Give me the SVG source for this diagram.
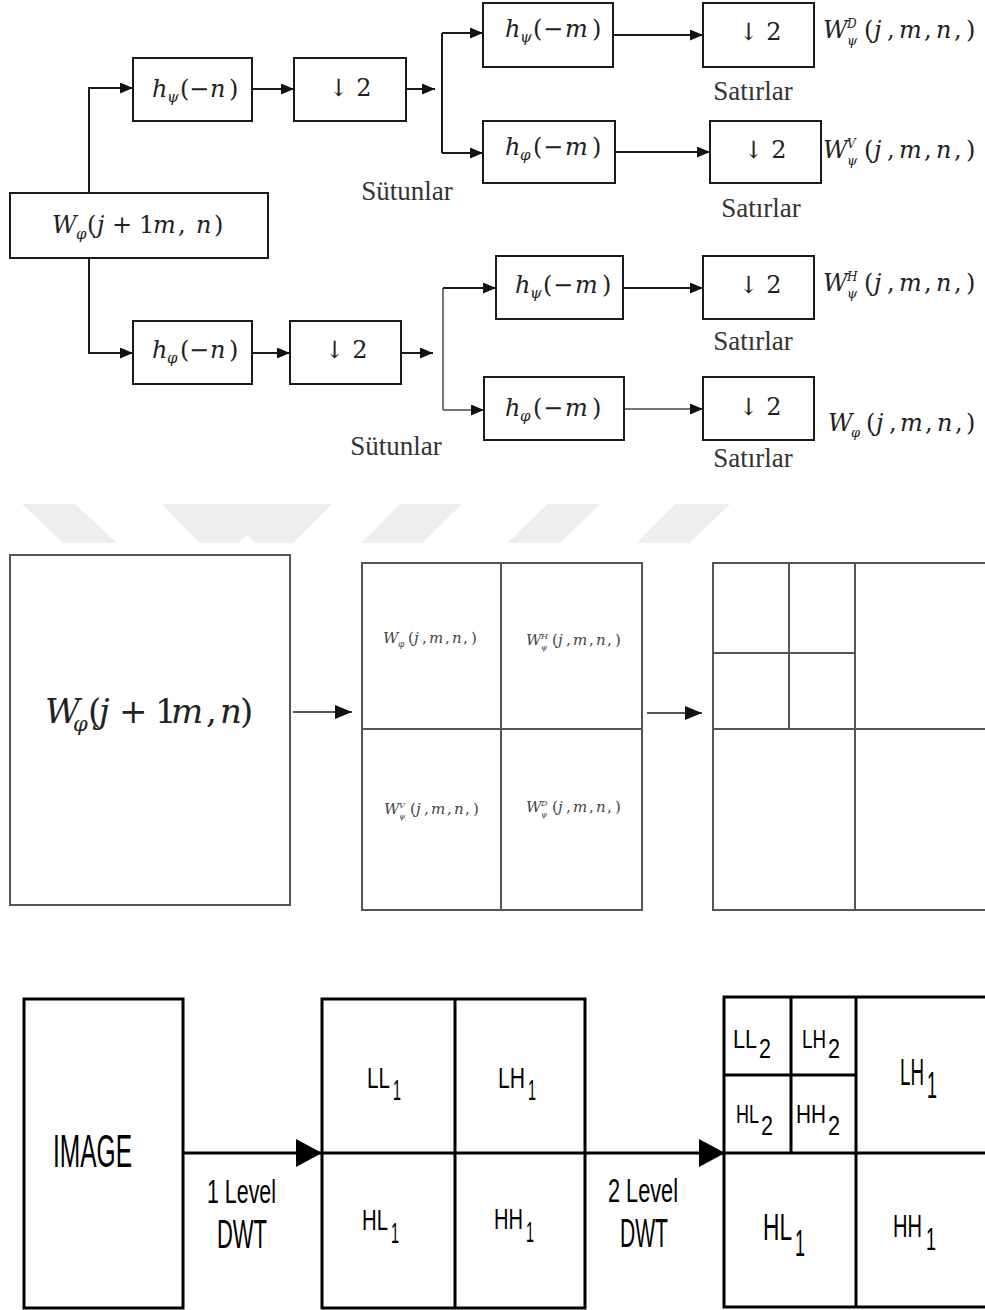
<svg xmlns="http://www.w3.org/2000/svg" width="985" height="1310" viewBox="0 0 985 1310">
<defs>
<marker id="a1" markerUnits="userSpaceOnUse" markerWidth="13" markerHeight="11" refX="13" refY="5.5" orient="auto"><path d="M0,0 L13,5.5 L0,11 z" fill="#111"/></marker>
<marker id="a2" markerUnits="userSpaceOnUse" markerWidth="17" markerHeight="14" refX="17" refY="7" orient="auto"><path d="M0,0 L17,7 L0,14 z" fill="#111"/></marker>
<marker id="a3" markerUnits="userSpaceOnUse" markerWidth="26" markerHeight="28" refX="26" refY="14" orient="auto"><path d="M0,0 L26,14 L0,28 z" fill="#000"/></marker>
<style>
.bx{fill:#fff;stroke:#1a1a1a;stroke-width:2}
.c{fill:none;stroke:#1a1a1a;stroke-width:2}
.cg{fill:none;stroke:#777;stroke-width:2}
.m{font-family:"DejaVu Serif","Liberation Serif",serif;fill:#222}
.ms{font-family:"DejaVu Serif","Liberation Serif",serif;fill:#444}
.i{font-style:italic}
.lb{font-family:"Liberation Serif","DejaVu Serif",serif;font-size:27px;fill:#333}
.g{fill:none;stroke:#555;stroke-width:2}
.wm{fill:#eeeeee}
.bb{fill:#fff;stroke:#000;stroke-width:3}
.bl{fill:none;stroke:#000;stroke-width:3}
.s{font-family:"Liberation Sans","Arial",sans-serif;fill:#000}
</style>
</defs>
<rect width="985" height="1310" fill="#fff"/>

<g id="watermark">
<polygon class="wm" points="22,504 75,504 117,543 63,543"/>
<polygon class="wm" points="162,504 332,504 293,543 256,543 247,535 238,543 200,543"/>
<polygon class="wm" points="400,504 462,504 422,543 362,543"/>
<polygon class="wm" points="548,504 600,504 560,543 507,543"/>
<polygon class="wm" points="675,504 730,504 690,543 637,543"/>
</g>

<!-- ===== TOP: filter bank ===== -->
<g id="connectors-top">
<path class="c" d="M89,193 V88 H133" marker-end="url(#a1)"/>
<path class="c" d="M252,89 H294" marker-end="url(#a1)"/>
<path class="c" d="M406,89 H435" marker-end="url(#a1)"/>
<path class="c" d="M442,33 V153"/>
<path class="c" d="M442,33 H483" marker-end="url(#a1)"/>
<path class="c" d="M442,153 H483" marker-end="url(#a1)"/>
<path class="c" d="M613,35 H703" marker-end="url(#a1)"/>
<path class="c" d="M615,152 H710" marker-end="url(#a1)"/>
<path class="c" d="M89,258 V353 H133" marker-end="url(#a1)"/>
<path class="c" d="M252,353 H290" marker-end="url(#a1)"/>
<path class="c" d="M401,353 H433" marker-end="url(#a1)"/>
<path class="cg" d="M443,288 V410"/>
<path class="c" d="M443,288 H496" marker-end="url(#a1)"/>
<path class="cg" d="M443,410 H484" marker-end="url(#a1)"/>
<path class="c" d="M623,288 H703" marker-end="url(#a1)"/>
<path class="cg" d="M624,409 H703" marker-end="url(#a1)"/>
</g>

<g id="n-w-input">
<rect class="bx" x="10" y="193" width="258" height="65"/>
<text class="m" y="233" font-size="24"><tspan x="52" class="i">W</tspan><tspan x="76" y="239" font-size="15" class="i">φ</tspan><tspan x="87" y="233">(</tspan><tspan x="97" class="i">j</tspan><tspan x="112">+</tspan><tspan x="139">1</tspan><tspan x="153" class="i">m</tspan><tspan x="178">,</tspan><tspan x="196" class="i">n</tspan><tspan x="214">)</tspan></text>
</g>
<g id="n-hpsi-n">
<rect class="bx" x="133" y="58" width="119" height="63"/>
<text class="m" y="97" font-size="24"><tspan x="152" class="i">h</tspan><tspan x="167" y="102" font-size="15" class="i">ψ</tspan><tspan x="180" y="97">(</tspan><tspan x="189">−</tspan><tspan x="210" class="i">n</tspan><tspan x="229">)</tspan></text>
</g>
<g id="n-ds1">
<rect class="bx" x="294" y="58" width="112" height="63"/>
<text class="m" x="350" y="96" font-size="24" text-anchor="middle">↓ 2</text>
</g>
<g id="n-hpsi-m1">
<rect class="bx" x="483" y="3" width="130" height="64"/>
<text class="m" y="37" font-size="24"><tspan x="505" class="i">h</tspan><tspan x="520" y="42" font-size="15" class="i">ψ</tspan><tspan x="533" y="37">(</tspan><tspan x="543">−</tspan><tspan x="565" class="i">m</tspan><tspan x="592">)</tspan></text>
</g>
<g id="n-ds2">
<rect class="bx" x="703" y="3" width="111" height="64"/>
<text class="m" x="760" y="40" font-size="24" text-anchor="middle">↓ 2</text>
</g>
<text class="lb" x="753" y="100" text-anchor="middle">Satırlar</text>
<text class="m" y="38" font-size="24"><tspan x="823" class="i">W</tspan><tspan x="847" y="28" font-size="12" class="i">D</tspan><tspan x="847" y="45" font-size="13" class="i">ψ</tspan><tspan x="864" y="38">(</tspan><tspan x="874" class="i">j</tspan><tspan x="887">,</tspan><tspan x="899" class="i">m</tspan><tspan x="924">,</tspan><tspan x="936" class="i">n</tspan><tspan x="954">,</tspan><tspan x="966">)</tspan></text>

<g id="n-hphi-m1">
<rect class="bx" x="483" y="121" width="132" height="62"/>
<text class="m" y="155" font-size="24"><tspan x="505" class="i">h</tspan><tspan x="520" y="160" font-size="15" class="i">φ</tspan><tspan x="533" y="155">(</tspan><tspan x="543">−</tspan><tspan x="565" class="i">m</tspan><tspan x="592">)</tspan></text>
</g>
<g id="n-ds3">
<rect class="bx" x="710" y="121" width="111" height="62"/>
<text class="m" x="765" y="158" font-size="24" text-anchor="middle">↓ 2</text>
</g>
<text class="lb" x="761" y="217" text-anchor="middle">Satırlar</text>
<text class="m" y="158" font-size="24"><tspan x="823" class="i">W</tspan><tspan x="847" y="148" font-size="12" class="i">V</tspan><tspan x="847" y="165" font-size="13" class="i">ψ</tspan><tspan x="864" y="158">(</tspan><tspan x="874" class="i">j</tspan><tspan x="887">,</tspan><tspan x="899" class="i">m</tspan><tspan x="924">,</tspan><tspan x="936" class="i">n</tspan><tspan x="954">,</tspan><tspan x="966">)</tspan></text>
<text class="lb" x="407" y="200" text-anchor="middle">Sütunlar</text>

<g id="n-hphi-n">
<rect class="bx" x="133" y="321" width="119" height="63"/>
<text class="m" y="358" font-size="24"><tspan x="152" class="i">h</tspan><tspan x="167" y="363" font-size="15" class="i">φ</tspan><tspan x="180" y="358">(</tspan><tspan x="189">−</tspan><tspan x="210" class="i">n</tspan><tspan x="229">)</tspan></text>
</g>
<g id="n-ds4">
<rect class="bx" x="290" y="321" width="111" height="63"/>
<text class="m" x="346" y="358" font-size="24" text-anchor="middle">↓ 2</text>
</g>
<g id="n-hpsi-m2">
<rect class="bx" x="496" y="256" width="127" height="63"/>
<text class="m" y="293" font-size="24"><tspan x="515" class="i">h</tspan><tspan x="530" y="298" font-size="15" class="i">ψ</tspan><tspan x="543" y="293">(</tspan><tspan x="553">−</tspan><tspan x="575" class="i">m</tspan><tspan x="602">)</tspan></text>
</g>
<g id="n-ds5">
<rect class="bx" x="703" y="256" width="111" height="63"/>
<text class="m" x="760" y="293" font-size="24" text-anchor="middle">↓ 2</text>
</g>
<text class="lb" x="753" y="350" text-anchor="middle">Satırlar</text>
<text class="m" y="291" font-size="24"><tspan x="823" class="i">W</tspan><tspan x="847" y="281" font-size="12" class="i">H</tspan><tspan x="847" y="298" font-size="13" class="i">ψ</tspan><tspan x="864" y="291">(</tspan><tspan x="874" class="i">j</tspan><tspan x="887">,</tspan><tspan x="899" class="i">m</tspan><tspan x="924">,</tspan><tspan x="936" class="i">n</tspan><tspan x="954">,</tspan><tspan x="966">)</tspan></text>

<g id="n-hphi-m2">
<rect class="bx" x="484" y="377" width="140" height="63"/>
<text class="m" y="416" font-size="24"><tspan x="505" class="i">h</tspan><tspan x="520" y="421" font-size="15" class="i">φ</tspan><tspan x="533" y="416">(</tspan><tspan x="543">−</tspan><tspan x="565" class="i">m</tspan><tspan x="592">)</tspan></text>
</g>
<g id="n-ds6">
<rect class="bx" x="703" y="377" width="111" height="63"/>
<text class="m" x="760" y="415" font-size="24" text-anchor="middle">↓ 2</text>
</g>
<text class="lb" x="753" y="467" text-anchor="middle">Satırlar</text>
<text class="m" y="431" font-size="24"><tspan x="828" class="i">W</tspan><tspan x="851" y="437" font-size="13" class="i">φ</tspan><tspan x="866" y="431">(</tspan><tspan x="876" class="i">j</tspan><tspan x="889">,</tspan><tspan x="900" class="i">m</tspan><tspan x="925">,</tspan><tspan x="937" class="i">n</tspan><tspan x="955">,</tspan><tspan x="966">)</tspan></text>
<text class="lb" x="396" y="455" text-anchor="middle">Sütunlar</text>

<!-- ===== MIDDLE ===== -->
<g id="connectors-mid">
<path class="g" d="M293,712 H352" marker-end="url(#a2)"/>
<path class="g" d="M647,713 H702" marker-end="url(#a2)"/>
</g>
<g id="n-mid-input">
<rect class="g" x="10" y="555" width="280" height="350" fill="#fff"/>
<text class="m" y="723" font-size="34"><tspan x="45" class="i">W</tspan><tspan x="73" y="731" font-size="21" class="i">φ</tspan><tspan x="88" y="723">(</tspan><tspan x="99" class="i">j</tspan><tspan x="119">+</tspan><tspan x="155">1</tspan><tspan x="171" class="i">m</tspan><tspan x="206">,</tspan><tspan x="220" class="i">n</tspan><tspan x="240">)</tspan></text>
</g>
<g id="n-mid-level1">
<rect class="g" x="362" y="563" width="280" height="347" fill="#fff"/>
<path class="g" d="M501,563 V910 M362,729 H642"/>
<text class="ms" y="643" font-size="15"><tspan x="383" class="i">W</tspan><tspan x="398" y="647" font-size="9" class="i">φ</tspan><tspan x="408" y="643">(</tspan><tspan x="414" class="i">j</tspan><tspan x="422">,</tspan><tspan x="429" class="i">m</tspan><tspan x="445">,</tspan><tspan x="452" class="i">n</tspan><tspan x="463">,</tspan><tspan x="471">)</tspan></text>
<text class="ms" y="645" font-size="15"><tspan x="526" class="i">W</tspan><tspan x="541" y="639" font-size="8" class="i">H</tspan><tspan x="541" y="650" font-size="8" class="i">ψ</tspan><tspan x="552" y="645">(</tspan><tspan x="558" class="i">j</tspan><tspan x="566">,</tspan><tspan x="573" class="i">m</tspan><tspan x="589">,</tspan><tspan x="596" class="i">n</tspan><tspan x="607">,</tspan><tspan x="615">)</tspan></text>
<text class="ms" y="814" font-size="15"><tspan x="384" class="i">W</tspan><tspan x="399" y="808" font-size="8" class="i">V</tspan><tspan x="399" y="819" font-size="8" class="i">ψ</tspan><tspan x="410" y="814">(</tspan><tspan x="416" class="i">j</tspan><tspan x="424">,</tspan><tspan x="431" class="i">m</tspan><tspan x="447">,</tspan><tspan x="454" class="i">n</tspan><tspan x="465">,</tspan><tspan x="473">)</tspan></text>
<text class="ms" y="812" font-size="15"><tspan x="526" class="i">W</tspan><tspan x="541" y="806" font-size="8" class="i">D</tspan><tspan x="541" y="817" font-size="8" class="i">ψ</tspan><tspan x="552" y="812">(</tspan><tspan x="558" class="i">j</tspan><tspan x="566">,</tspan><tspan x="573" class="i">m</tspan><tspan x="589">,</tspan><tspan x="596" class="i">n</tspan><tspan x="607">,</tspan><tspan x="615">)</tspan></text>
</g>
<g id="n-mid-level2">
<path class="g" d="M985,563 H713 V910 H985 M855,563 V910 M713,729 H985 M789,563 V729 M713,653 H855"/>
</g>

<!-- ===== BOTTOM ===== -->
<g id="connectors-bottom">
<path class="bl" d="M183,1153 H322" marker-end="url(#a3)"/>
<path class="bl" d="M585,1153 H725" marker-end="url(#a3)"/>
</g>
<g id="n-image">
<rect class="bb" x="24" y="999" width="159" height="309"/>
<text class="s" x="53" y="1167" font-size="46" textLength="79" lengthAdjust="spacingAndGlyphs">IMAGE</text>
</g>
<text class="s" x="207" y="1203" font-size="34" textLength="69" lengthAdjust="spacingAndGlyphs">1 Level</text>
<text class="s" x="217" y="1248" font-size="40" textLength="50" lengthAdjust="spacingAndGlyphs">DWT</text>
<g id="n-level1">
<rect class="bb" x="322" y="999" width="263" height="309"/>
<path class="bl" d="M455,999 V1308 M322,1153 H585"/>
<text class="s" x="367" y="1088" font-size="30" textLength="23" lengthAdjust="spacingAndGlyphs">LL</text>
<text class="s" x="393" y="1100" font-size="30" textLength="8" lengthAdjust="spacingAndGlyphs">1</text>
<text class="s" x="498" y="1088" font-size="30" textLength="27" lengthAdjust="spacingAndGlyphs">LH</text>
<text class="s" x="528" y="1100" font-size="30" textLength="8" lengthAdjust="spacingAndGlyphs">1</text>
<text class="s" x="362" y="1230" font-size="30" textLength="26" lengthAdjust="spacingAndGlyphs">HL</text>
<text class="s" x="391" y="1243" font-size="30" textLength="8" lengthAdjust="spacingAndGlyphs">1</text>
<text class="s" x="494" y="1229" font-size="30" textLength="29" lengthAdjust="spacingAndGlyphs">HH</text>
<text class="s" x="526" y="1242" font-size="30" textLength="8" lengthAdjust="spacingAndGlyphs">1</text>
</g>
<text class="s" x="608" y="1202" font-size="34" textLength="70" lengthAdjust="spacingAndGlyphs">2 Level</text>
<text class="s" x="620" y="1247" font-size="40" textLength="48" lengthAdjust="spacingAndGlyphs">DWT</text>
<g id="n-level2">
<path class="bl" d="M985,997 H724 V1307 H985 M856,997 V1307 M724,1153 H985 M791,997 V1153 M724,1075 H856"/>
<text class="s" x="733" y="1048" font-size="26" textLength="24" lengthAdjust="spacingAndGlyphs">LL</text>
<text class="s" x="759" y="1058" font-size="28" textLength="12" lengthAdjust="spacingAndGlyphs">2</text>
<text class="s" x="802" y="1048" font-size="26" textLength="24" lengthAdjust="spacingAndGlyphs">LH</text>
<text class="s" x="828" y="1058" font-size="28" textLength="12" lengthAdjust="spacingAndGlyphs">2</text>
<text class="s" x="736" y="1123" font-size="26" textLength="23" lengthAdjust="spacingAndGlyphs">HL</text>
<text class="s" x="761" y="1135" font-size="28" textLength="12" lengthAdjust="spacingAndGlyphs">2</text>
<text class="s" x="796" y="1123" font-size="26" textLength="30" lengthAdjust="spacingAndGlyphs">HH</text>
<text class="s" x="828" y="1135" font-size="28" textLength="12" lengthAdjust="spacingAndGlyphs">2</text>
<text class="s" x="900" y="1085" font-size="36" textLength="24" lengthAdjust="spacingAndGlyphs">LH</text>
<text class="s" x="927" y="1098" font-size="36" textLength="10" lengthAdjust="spacingAndGlyphs">1</text>
<text class="s" x="763" y="1240" font-size="36" textLength="29" lengthAdjust="spacingAndGlyphs">HL</text>
<text class="s" x="795" y="1256" font-size="36" textLength="10" lengthAdjust="spacingAndGlyphs">1</text>
<text class="s" x="893" y="1237" font-size="32" textLength="29" lengthAdjust="spacingAndGlyphs">HH</text>
<text class="s" x="926" y="1250" font-size="32" textLength="10" lengthAdjust="spacingAndGlyphs">1</text>
</g>
</svg>
